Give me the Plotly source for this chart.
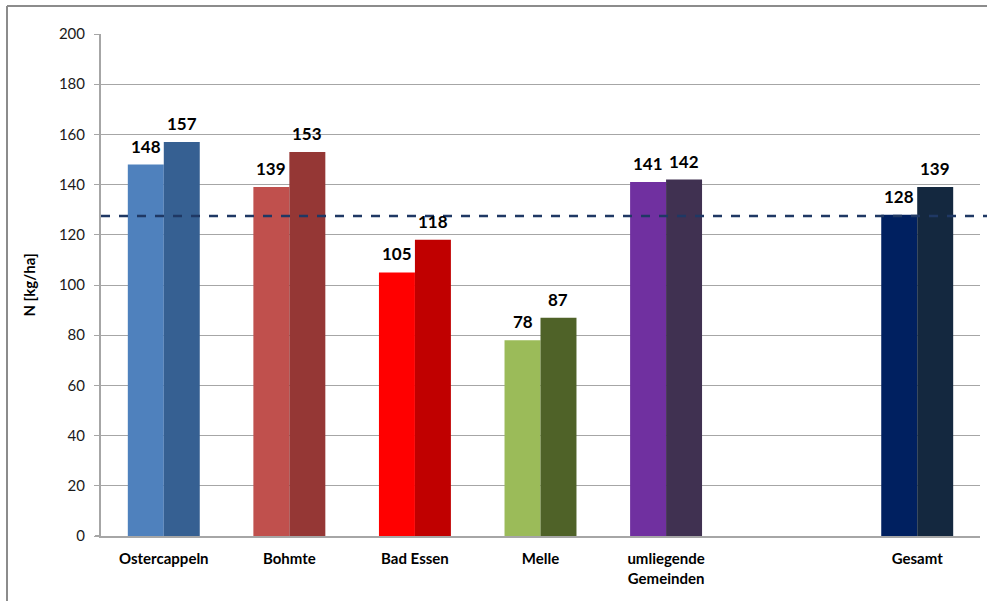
import plotly.graph_objects as go

categories = ["Ostercappeln", "Bohmte", "Bad Essen", "Melle", "umliegende<br>Gemeinden", " ", "Gesamt"]
series_a = [148, 139, 105, 78, 141, None, 128]
series_b = [157, 153, 118, 87, 142, None, 139]
colors_a = ["#4F81BD", "#C0504D", "#FF0000", "#9BBB59", "#7030A0", "#FFFFFF", "#002060"]
colors_b = ["#366092", "#953735", "#C00000", "#4F6228", "#403151", "#FFFFFF", "#14283F"]
reference_value = 127.5
y_ticks = [0, 20, 40, 60, 80, 100, 120, 140, 160, 180, 200]

W, H = 987, 601
L, R, T, B = 101, 7, 34, 65
pw = W - L - R
ph = H - T - B
BARGAP = 0.427

def px_x(x):
    return (x - L) / pw

def px_y(y):
    return (H - B - y) / ph

FONT = "Lato, Open Sans, sans-serif"
label_font = dict(family=FONT, size=17, color="#000000")

fig = go.Figure()
for vals, cols in [(series_a, colors_a), (series_b, colors_b)]:
    fig.add_trace(go.Bar(
        x=categories, y=vals,
        marker=dict(color=cols, line=dict(width=0)),
        showlegend=False, hoverinfo="x+y",
    ))

half = (1 - BARGAP) / 4
annotations = []
for offset, vals in [(-half, series_a), (half, series_b)]:
    for i, v in enumerate(vals):
        if v is None:
            continue
        annotations.append(dict(
            x=i + offset, y=v, xref="x", yref="y", text="<b>%d</b>" % v,
            showarrow=False, yanchor="bottom", yshift=6, font=label_font,
        ))

fig.update_layout(
    width=W, height=H,
    margin=dict(l=L, r=R, t=T, b=B),
    paper_bgcolor="white", plot_bgcolor="white",
    barmode="group", bargap=BARGAP, bargroupgap=0,
    font=dict(family=FONT, size=13, color="#000000"),
    xaxis=dict(
        type="category", categoryorder="array", categoryarray=categories,
        showgrid=False, showline=True, linecolor="#A6A6A6", linewidth=2,
        ticks="", tickfont=dict(size=15, family=FONT, color="#000000", weight="bold"),
        ticklabelstandoff=8,
        range=[-0.5, 6.5],
    ),
    yaxis=dict(
        range=[0, 200], tickvals=y_ticks,
        showgrid=True, gridcolor="#A6A6A6", gridwidth=1,
        showline=True, linecolor="#A6A6A6", linewidth=2,
        ticks="outside", ticklen=5, tickcolor="#A6A6A6", tickwidth=1,
        tickfont=dict(size=15, family=FONT, color="#1A1A1A"),
        ticklabelstandoff=6,
        title=dict(text="<b>N [kg/ha]</b>", font=dict(size=15, family=FONT, color="#000000"), standoff=20),
        zeroline=False,
    ),
    annotations=annotations,
    shapes=[
        dict(type="line", xref="paper", yref="y", x0=0, x1=px_x(990), y0=reference_value, y1=reference_value,
             line=dict(color="#1F3864", width=2.5, dash="dash")),
        dict(type="line", xref="paper", yref="paper", x0=px_x(7), x1=px_x(990), y0=px_y(6), y1=px_y(6),
             line=dict(color="#8C8C8C", width=2)),
        dict(type="line", xref="paper", yref="paper", x0=px_x(7), x1=px_x(7), y0=px_y(6), y1=px_y(605),
             line=dict(color="#8C8C8C", width=2)),
        dict(type="line", xref="paper", yref="y", x0=px_x(95), x1=0, y0=0, y1=0,
             line=dict(color="#A6A6A6", width=2)),
    ],
)

fig.write_html("out.html")
